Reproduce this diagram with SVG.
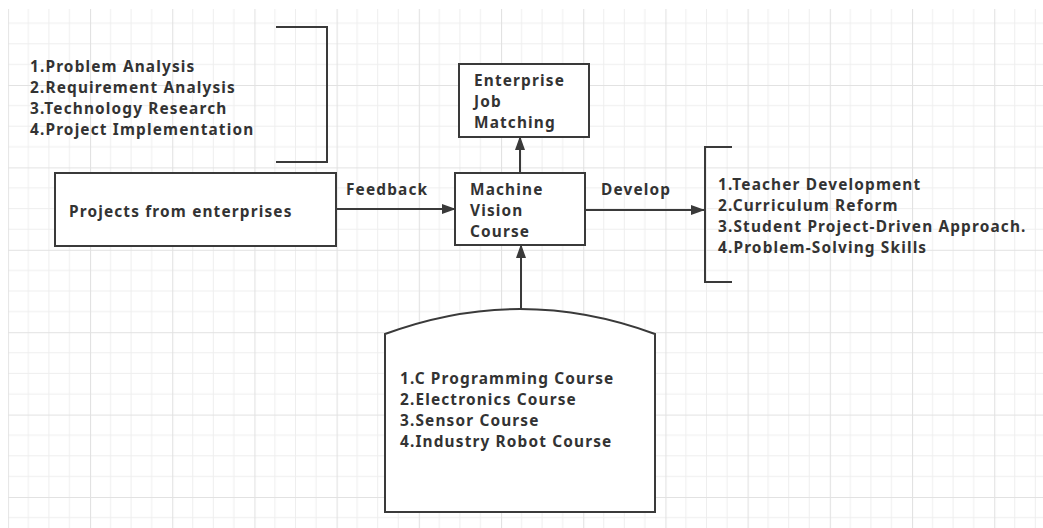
<svg xmlns="http://www.w3.org/2000/svg" width="1043" height="528" viewBox="0 0 1043 528">
<style>
.t{font-family:"Noto Sans","Open Sans","Liberation Sans",sans-serif;font-weight:bold;font-size:15.4px;letter-spacing:1.15px;fill:#333}
.s{fill:#fff;stroke:#3a3a3a;stroke-width:2}
.b{fill:none;stroke:#3a3a3a;stroke-width:2}
.c{fill:none;stroke:#3a3a3a;stroke-width:2}
</style>
<defs>
<pattern id="g" width="82.2" height="82.4" patternUnits="userSpaceOnUse" x="7.8" y="2.6">
<path d="M20.55 0V82.4M41.1 0V82.4M61.65 0V82.4M0 20.6H82.2M0 41.2H82.2M0 61.8H82.2" stroke="#eeeeee" stroke-width="1" fill="none"/>
<path d="M0.5 0V82.4M0 0.5H82.2" stroke="#e2e2e2" stroke-width="1.2" fill="none"/>
</pattern>
<marker id="a" markerWidth="14" markerHeight="10" refX="13" refY="5" orient="auto" markerUnits="userSpaceOnUse">
<path d="M0,0 L14,5 L0,10 Z" fill="#3a3a3a"/>
</marker>
</defs>
<rect width="1043" height="528" fill="#fff"/>
<rect x="8" y="9" width="1035" height="519" fill="url(#g)"/>

<g id="connectors">
<line class="c" x1="336" y1="209" x2="455" y2="209" marker-end="url(#a)"/>
<line class="c" x1="585" y1="210" x2="704" y2="210" marker-end="url(#a)"/>
<line class="c" x1="520" y1="173" x2="520" y2="137" marker-end="url(#a)"/>
<line class="c" x1="521" y1="309" x2="521" y2="245" marker-end="url(#a)"/>
<text class="t" x="346" y="195">Feedback</text>
<text class="t" x="601" y="195">Develop</text>
</g>

<g id="steps">
<path class="b" d="M276,27 H327 V162 H276"/>
<text class="t" x="30" y="72">1.Problem Analysis</text>
<text class="t" x="30" y="93">2.Requirement Analysis</text>
<text class="t" x="30" y="114">3.Technology Research</text>
<text class="t" x="30" y="135">4.Project Implementation</text>
</g>

<g id="job">
<rect class="s" x="459" y="64" width="130" height="73"/>
<text class="t" x="474" y="86">Enterprise</text>
<text class="t" x="474" y="107">Job</text>
<text class="t" x="474" y="128">Matching</text>
</g>

<g id="projects">
<rect class="s" x="55" y="173" width="281" height="73"/>
<text class="t" x="69" y="217">Projects from enterprises</text>
</g>

<g id="course">
<rect class="s" x="455" y="173" width="130" height="72"/>
<text class="t" x="470" y="195">Machine</text>
<text class="t" x="470" y="216">Vision</text>
<text class="t" x="470" y="237">Course</text>
</g>

<g id="develop">
<path class="b" d="M732,147 H705 V282 H732"/>
<text class="t" x="718" y="190">1.Teacher Development</text>
<text class="t" x="718" y="211">2.Curriculum Reform</text>
<text class="t" x="718" y="232">3.Student Project-Driven Approach.</text>
<text class="t" x="718" y="253">4.Problem-Solving Skills</text>
</g>

<g id="basics">
<path class="s" d="M385,334 Q520,284 655,334 V512 H385 Z"/>
<text class="t" x="400" y="384">1.C Programming Course</text>
<text class="t" x="400" y="405">2.Electronics Course</text>
<text class="t" x="400" y="426">3.Sensor Course</text>
<text class="t" x="400" y="447">4.Industry Robot Course</text>
</g>
</svg>
